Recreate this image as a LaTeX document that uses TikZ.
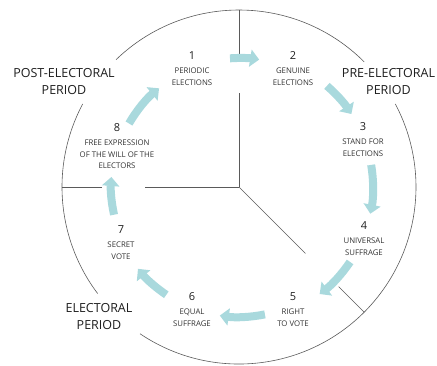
\documentclass[tikz,border=0pt]{standalone}
\usepackage{fontspec}
\setmainfont{Open Sans}
\usetikzlibrary{arrows.meta,calc}
\definecolor{flowc}{HTML}{A9D9DD}
\definecolor{linec}{HTML}{5A5A5A}
\definecolor{textc}{HTML}{1E1E1E}
\definecolor{smallc}{HTML}{333333}
\begin{document}
\begin{tikzpicture}[x=1pt,y=1pt,
 ring/.style={draw=linec,line width=0.6pt},
 flow/.style={draw=flowc,line width=8pt,-{Triangle[width=17pt,length=9pt]}},
 period/.style={font=\fontsize{12.5}{17}\selectfont,text=textc,align=center,inner sep=0},
 num/.style={font=\fontsize{11}{13}\selectfont,text=textc,inner sep=0},
 lab/.style={font=\fontsize{7.8}{11.5}\selectfont,text=smallc,align=center,inner sep=0,anchor=north},
]
\useasboundingbox (0,0) rectangle (437,-365);
\coordinate (C) at (239,-187);
% outer circle with gaps
\coordinate (r1) at ($(C)+(45:177)$);
\coordinate (r2) at ($(C)+(152:177)$);
\coordinate (r3) at ($(C)+(236:177)$);
\draw[ring] (r1) arc[start angle=45,end angle=134,radius=177];
\draw[ring] (r2) arc[start angle=152,end angle=217,radius=177];
\draw[ring] (r3) arc[start angle=236,end angle=388,radius=177];
% spokes
\coordinate (v1) at ($(C)+(90:94)$);
\coordinate (v2) at ($(C)+(90:130)$);
\coordinate (v3) at ($(C)+(90:177)$);
\coordinate (h1) at ($(C)+(180:94)$);
\coordinate (h2) at ($(C)+(180:137)$);
\coordinate (h3) at ($(C)+(180:177)$);
\coordinate (d1) at ($(C)+(-45:94)$);
\coordinate (d2) at ($(C)+(-45:141)$);
\coordinate (d3) at ($(C)+(-45:177)$);
\draw[ring] (C) -- (v1);
\draw[ring] (v2) -- (v3);
\draw[ring] (C) -- (h1);
\draw[ring] (h2) -- (h3);
\draw[ring] (C) -- (d1);
\draw[ring] (d2) -- (d3);
% period labels
\node[period] (post) at (64,-81.5) {POST-ELECTORAL\\PERIOD};
\node[period] (pre) at (388.5,-82) {PRE-ELECTORAL\\PERIOD};
\node[period] (elec) at (99,-316.5) {ELECTORAL\\PERIOD};
% steps
\node[num] (n1) at (192,-56) {1};
\node[lab] (l1) at (192,-68) {PERIODIC\\ELECTIONS};
\node[num] (n2) at (293,-56) {2};
\node[lab] (l2) at (293,-68) {GENUINE\\ELECTIONS};
\node[num] (n3) at (363,-127) {3};
\node[lab] (l3) at (363,-139) {STAND FOR\\ELECTIONS};
\node[num] (n4) at (364,-226) {4};
\node[lab] (l4) at (364,-238) {UNIVERSAL\\SUFFRAGE};
\node[num] (n5) at (293,-297) {5};
\node[lab] (l5) at (293,-309) {RIGHT\\TO VOTE};
\node[num] (n6) at (192,-297) {6};
\node[lab] (l6) at (192,-309) {EQUAL\\SUFFRAGE};
\node[num] (n7) at (121,-230) {7};
\node[lab] (l7) at (121,-242) {SECRET\\VOTE};
\node[num] (n8) at (117,-128) {8};
\node[lab] (l8) at (117,-140) {FREE EXPRESSION\\OF THE WILL OF THE\\ELECTORS};
% flow arrows
\coordinate (f12) at ($(C)+(94:129)$);
\coordinate (f23) at ($(C)+(49:134)$);
\coordinate (f34) at ($(C)+(9.5:134)$);
\coordinate (f45) at ($(C)+(-34:134)$);
\coordinate (f56) at ($(C)+(-78.5:130)$);
\coordinate (f67) at ($(C)+(-124:130)$);
\coordinate (f78) at ($(C)+(-167.5:128)$);
\coordinate (f81) at ($(C)+(150:127)$);
\draw[flow] (f12) arc[start angle=94,end angle=81,radius=129];
\draw[flow] (f23) arc[start angle=49,end angle=33,radius=134];
\draw[flow] (f34) arc[start angle=9.5,end angle=-11.5,radius=134];
\draw[flow] (f45) arc[start angle=-34,end angle=-53,radius=134];
\draw[flow] (f56) arc[start angle=-78.5,end angle=-98.5,radius=130];
\draw[flow] (f67) arc[start angle=-124,end angle=-141,radius=130];
\draw[flow] (f78) arc[start angle=-167.5,end angle=-184.5,radius=128];
\draw[flow] (f81) arc[start angle=150,end angle=129,radius=127];
\end{tikzpicture}
\end{document}
